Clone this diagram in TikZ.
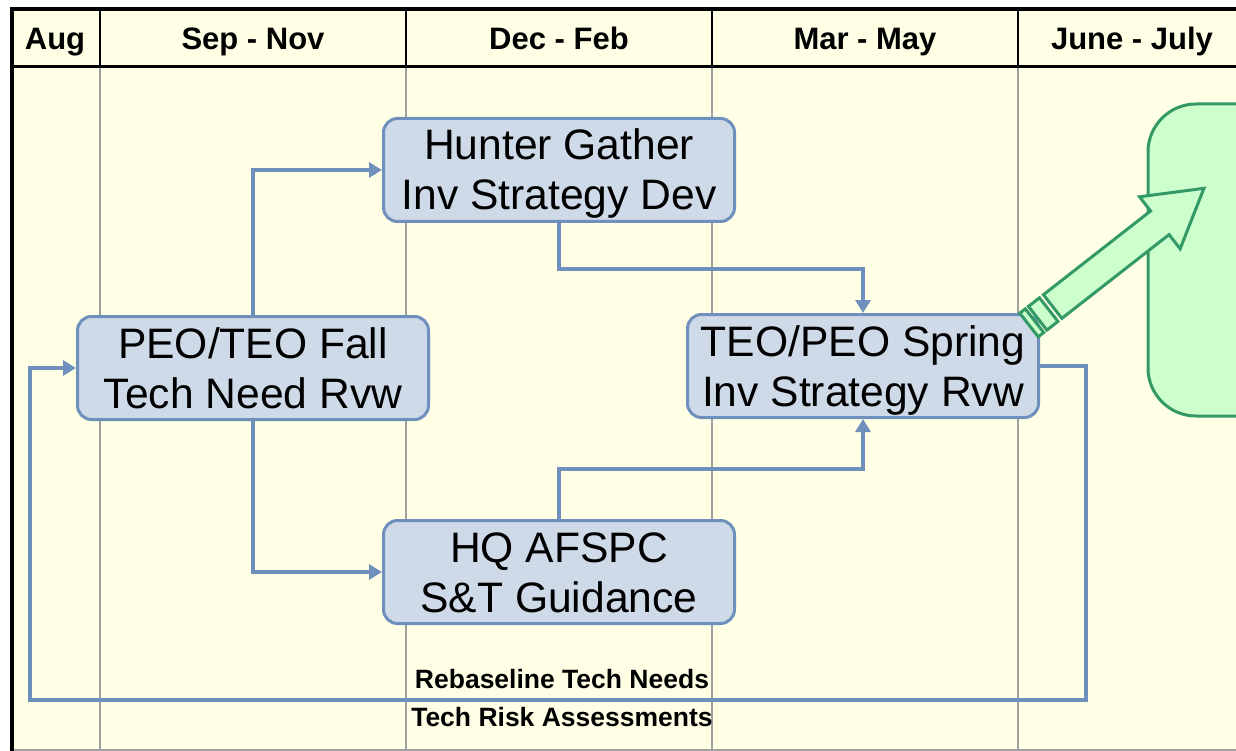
\documentclass[tikz,border=0pt]{standalone}
\usepackage{fontspec}
\setmainfont{Liberation Sans}
\usetikzlibrary{arrows.meta}
\definecolor{paper}{RGB}{255,255,230}
\definecolor{boxfill}{RGB}{206,218,232}
\definecolor{boxline}{RGB}{111,143,189}
\definecolor{goalfill}{RGB}{204,255,204}
\definecolor{goalline}{RGB}{51,153,102}
\definecolor{rulegray}{RGB}{160,160,160}
% two lines of box text, cut to cap height so that they sit as in the slide
\newcommand\boxlines[2]{\raisebox{0pt}[30pt][0pt]{#1}\\\raisebox{0pt}[30pt][0pt]{#2}}
\begin{document}
\begin{tikzpicture}[x=1pt,y=-1pt]
	\tikzstyle{stage} = [draw=boxline,fill=boxfill,line width=3pt,rounded corners=14pt,minimum width=351pt,minimum height=103pt,align=center,inner sep=0pt,font=\fontsize{42.6}{50}\selectfont]
	\tikzstyle{goal} = [draw=goalline,fill=goalfill,line width=3pt,rounded corners=48pt,minimum width=200pt,minimum height=312pt]
	\tikzstyle{month} = [anchor=base,font=\bfseries\fontsize{31}{36}\selectfont]
	\tikzstyle{note} = [font=\bfseries\fontsize{26.5}{30}\selectfont]
	\tikzstyle{flow} = [draw=boxline,line width=4pt,-{Triangle[length=13pt,width=15pt]}]
	\useasboundingbox (0,0) rectangle (1236,751);
	
	\fill[paper] (12,9) rectangle (1236,751);
	\foreach \x in {100,406,712,1018}
		\draw[rulegray,line width=2pt] (\x,67) -- (\x,751);
	\draw[rulegray,line width=2pt] (12,750) -- (1236,750);
	\foreach \x in {100,406,712,1018}
		\draw[line width=2pt] (\x,9) -- (\x,67);
	\draw[line width=4pt] (10,9) -- (1236,9);
	\draw[line width=3pt] (12,67) -- (1236,67);
	\draw[line width=4pt] (12,7) -- (12,751);
	
	\node[month](m-1) at (55,50){Aug};
	\node[month](m-2) at (253,50){Sep - Nov};
	\node[month](m-3) at (559,50){Dec - Feb};
	\node[month](m-4) at (865,50){Mar - May};
	\node[month](m-5) at (1132,50){June - July};
	
	\node[goal](goal) at (1248,260){};
	\node[stage](hunter) at (559,170){\boxlines{Hunter Gather}{Inv Strategy Dev}};
	\node[stage](fall) at (253,368){\boxlines{PEO/TEO Fall}{Tech Need Rvw}};
	\node[stage](hq) at (559,572){\boxlines{HQ AFSPC}{S\&T Guidance}};
	\node[stage](spring) at (863,366){\boxlines{TEO/PEO Spring}{Inv Strategy Rvw}};
	
	\draw[flow] (fall.north) |- (hunter.west);
	\draw[flow] (fall.south) |- (hq.west);
	\draw[flow] (hunter.south) -- ++(0,46) -| (spring.north);
	\draw[flow] (hq.north) -- ++(0,-50) -| (spring.south);
	\coordinate (loop-r) at (1086,700);
	\coordinate (loop-l) at (30,700);
	\draw[flow] (spring.east) -| (loop-r) -- (loop-l) |- (fall.west);
	
	\node[note](n-1) at (562,679){Rebaseline Tech Needs};
	\node[note](n-2) at (562,717){Tech Risk Assessments};
	
	\begin{scope}[shift={(1029,325)},rotate=38,draw=goalline,fill=goalfill,line width=3pt]
		\filldraw (0,-15) rectangle (7,15);
		\filldraw (11,-15) rectangle (25,15);
		\filldraw (30,-15) -- (166,-15) -- (166,-33) -- (222,0) -- (166,33) -- (166,15) -- (30,15) -- cycle;
	\end{scope}
\end{tikzpicture}
\end{document}
